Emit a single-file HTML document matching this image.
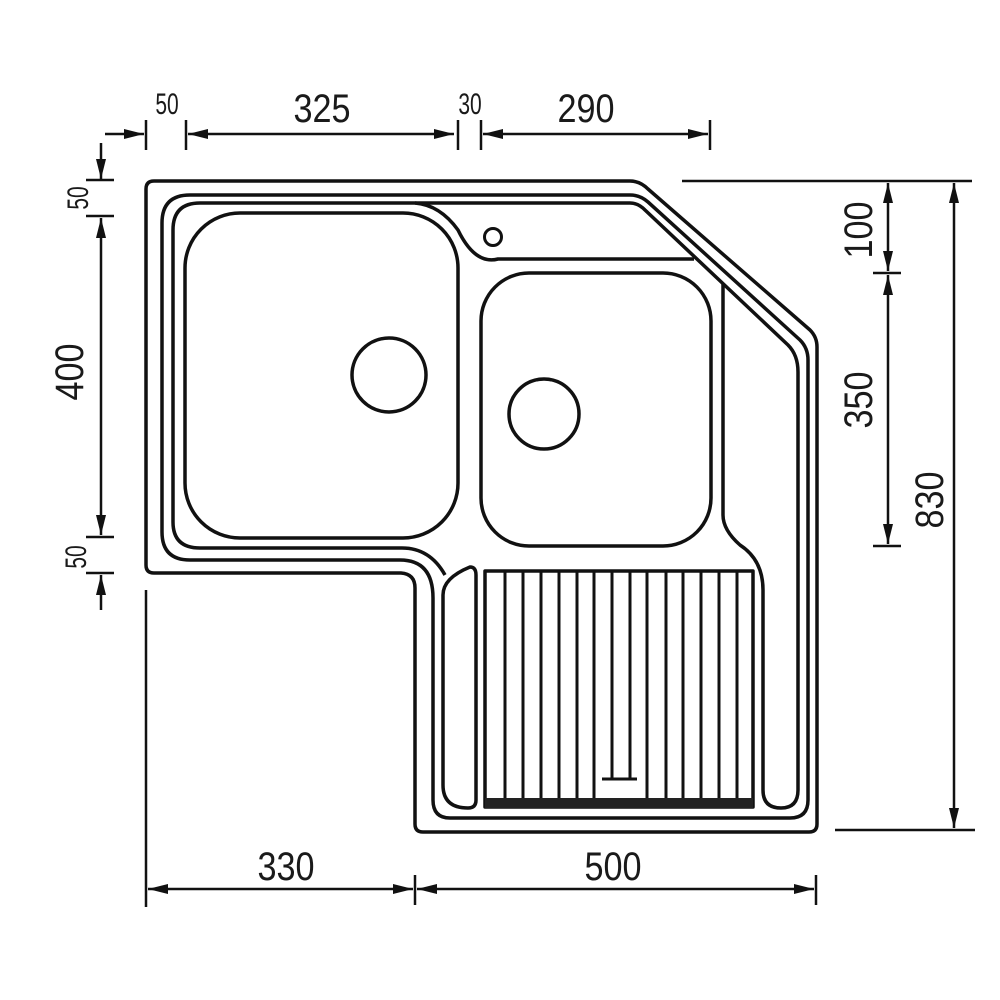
<!DOCTYPE html>
<html><head><meta charset="utf-8"><style>
html,body{margin:0;padding:0;background:#fff;}
svg{display:block;}
text{font-family:"Liberation Sans",sans-serif;fill:#1a1a1a;}
</style></head><body>
<svg width="1000" height="1000" viewBox="0 0 1000 1000" xmlns="http://www.w3.org/2000/svg">
<defs>
<marker id="a" viewBox="0 0 20 10" refX="20" refY="5" markerWidth="20" markerHeight="10" markerUnits="userSpaceOnUse" orient="auto-start-reverse"><path d="M0,0 L20,5 L0,10 Z" fill="#111"/></marker>
</defs>
<g fill="none" stroke="#111" stroke-width="3.5" stroke-linejoin="round">
<path d="M154,181 H630 Q640,181 648,189 L810,330 Q817,337 817,347 V824 Q817,832 809,832 H423 Q415,832 415,824 V588 Q415,574 401,573 H154 Q146,573 146,565 V189 Q146,181 154,181 Z"/>
<path d="M190,195 H630 Q640,195 648,202 L800,340 Q808,348 808,360 V800 Q808,818 790,818 H450 Q433,818 433,800 V598 Q433,560 400,560 H190 Q162,560 162,532 V223 Q162,195 190,195 Z"/>
<path d="M200,203 H630 Q638,203 645,210 L788,345 Q798,355 798,372 V790"/>
<path d="M415,203 Q440,205 458,230 Q475,265 498,259 H694"/>
<path d="M200,203 Q173,203 173,230 V522 Q173,548 200,548 H402 Q430,548 445,575"/>
<path d="M470,567 Q476,567 476,575 V800 Q476,808 468,808 Q443,808 443,785 V595 Q443,578 470,567 Z"/>
<path d="M723,284 V515 Q723,530 740,545 Q763,560 763,590 V790 Q763,808 781,808 Q798,808 798,790"/>
<rect x="185" y="213" width="273" height="325" rx="55"/>
<circle cx="389" cy="375" r="37"/>
<circle cx="493" cy="237" r="8.5" stroke-width="3"/>
<rect x="481" y="273" width="230" height="273" rx="48"/>
<circle cx="544" cy="414" r="35"/>
<rect x="485" y="571" width="268" height="236"/>
</g>
<g stroke="#111" stroke-width="3">
<line x1="505" y1="571" x2="505" y2="800"/><line x1="523" y1="571" x2="523" y2="800"/>
<line x1="541" y1="571" x2="541" y2="800"/><line x1="559" y1="571" x2="559" y2="800"/>
<line x1="577" y1="571" x2="577" y2="800"/><line x1="594" y1="571" x2="594" y2="800"/>
<line x1="612" y1="571" x2="612" y2="779"/><line x1="630" y1="571" x2="630" y2="779"/>
<line x1="602" y1="779" x2="637" y2="779"/>
<line x1="647" y1="571" x2="647" y2="800"/><line x1="666" y1="571" x2="666" y2="800"/>
<line x1="683" y1="571" x2="683" y2="800"/><line x1="701" y1="571" x2="701" y2="800"/>
<line x1="719" y1="571" x2="719" y2="800"/><line x1="737" y1="571" x2="737" y2="800"/>
</g>
<rect x="485" y="798" width="268" height="10" fill="#222"/>
<g stroke="#111" stroke-width="2.5" fill="none">
<line x1="105" y1="134" x2="144" y2="134" marker-end="url(#a)"/>
<line x1="146" y1="120" x2="146" y2="150"/><line x1="186" y1="120" x2="186" y2="150"/>
<line x1="188" y1="134" x2="454" y2="134" marker-start="url(#a)" marker-end="url(#a)"/>
<line x1="458" y1="120" x2="458" y2="150"/><line x1="481" y1="120" x2="481" y2="150"/>
<line x1="483" y1="134" x2="708" y2="134" marker-start="url(#a)" marker-end="url(#a)"/>
<line x1="710" y1="120" x2="710" y2="150"/>
<line x1="101" y1="143" x2="101" y2="179" marker-end="url(#a)"/>
<line x1="86" y1="180" x2="114" y2="180"/><line x1="86" y1="216" x2="114" y2="216"/>
<line x1="101" y1="218" x2="101" y2="535" marker-start="url(#a)" marker-end="url(#a)"/>
<line x1="86" y1="537" x2="114" y2="537"/><line x1="86" y1="573" x2="114" y2="573"/>
<line x1="101" y1="610" x2="101" y2="575" marker-end="url(#a)"/>
<line x1="682" y1="181" x2="972" y2="181"/>
<line x1="888" y1="183" x2="888" y2="271" marker-start="url(#a)" marker-end="url(#a)"/>
<line x1="873" y1="273" x2="901" y2="273"/>
<line x1="888" y1="275" x2="888" y2="544" marker-start="url(#a)" marker-end="url(#a)"/>
<line x1="873" y1="546" x2="901" y2="546"/>
<line x1="954" y1="183" x2="954" y2="828" marker-start="url(#a)" marker-end="url(#a)"/>
<line x1="835" y1="830" x2="975" y2="830"/>
<line x1="146" y1="590" x2="146" y2="907"/>
<line x1="415" y1="875" x2="415" y2="905"/><line x1="816" y1="875" x2="816" y2="905"/>
<line x1="148" y1="889" x2="413" y2="889" marker-start="url(#a)" marker-end="url(#a)"/>
<line x1="417" y1="889" x2="814" y2="889" marker-start="url(#a)" marker-end="url(#a)"/>
</g>
<g>
<text transform="translate(167,114) scale(0.7,1)" font-size="30" text-anchor="middle">50</text>
<text transform="translate(322,122) scale(0.9,1.05)" font-size="38" text-anchor="middle">325</text>
<text transform="translate(470,114) scale(0.7,1)" font-size="30" text-anchor="middle">30</text>
<text transform="translate(586,122) scale(0.9,1.05)" font-size="38" text-anchor="middle">290</text>
<text transform="translate(286,880) scale(0.9,1.05)" font-size="38" text-anchor="middle">330</text>
<text transform="translate(613,880) scale(0.9,1.05)" font-size="38" text-anchor="middle">500</text>
<text transform="translate(88,198) rotate(-90) scale(0.7,1)" font-size="30" text-anchor="middle">50</text>
<text transform="translate(86,557) rotate(-90) scale(0.7,1)" font-size="30" text-anchor="middle">50</text>
<text transform="translate(83,372) rotate(-90) scale(0.9,1.05)" font-size="38" text-anchor="middle">400</text>
<text transform="translate(872,230) rotate(-90) scale(0.9,1.05)" font-size="38" text-anchor="middle">100</text>
<text transform="translate(872,400) rotate(-90) scale(0.9,1.05)" font-size="38" text-anchor="middle">350</text>
<text transform="translate(943,500) rotate(-90) scale(0.9,1.05)" font-size="38" text-anchor="middle">830</text>
</g>
</svg>
</body></html>
